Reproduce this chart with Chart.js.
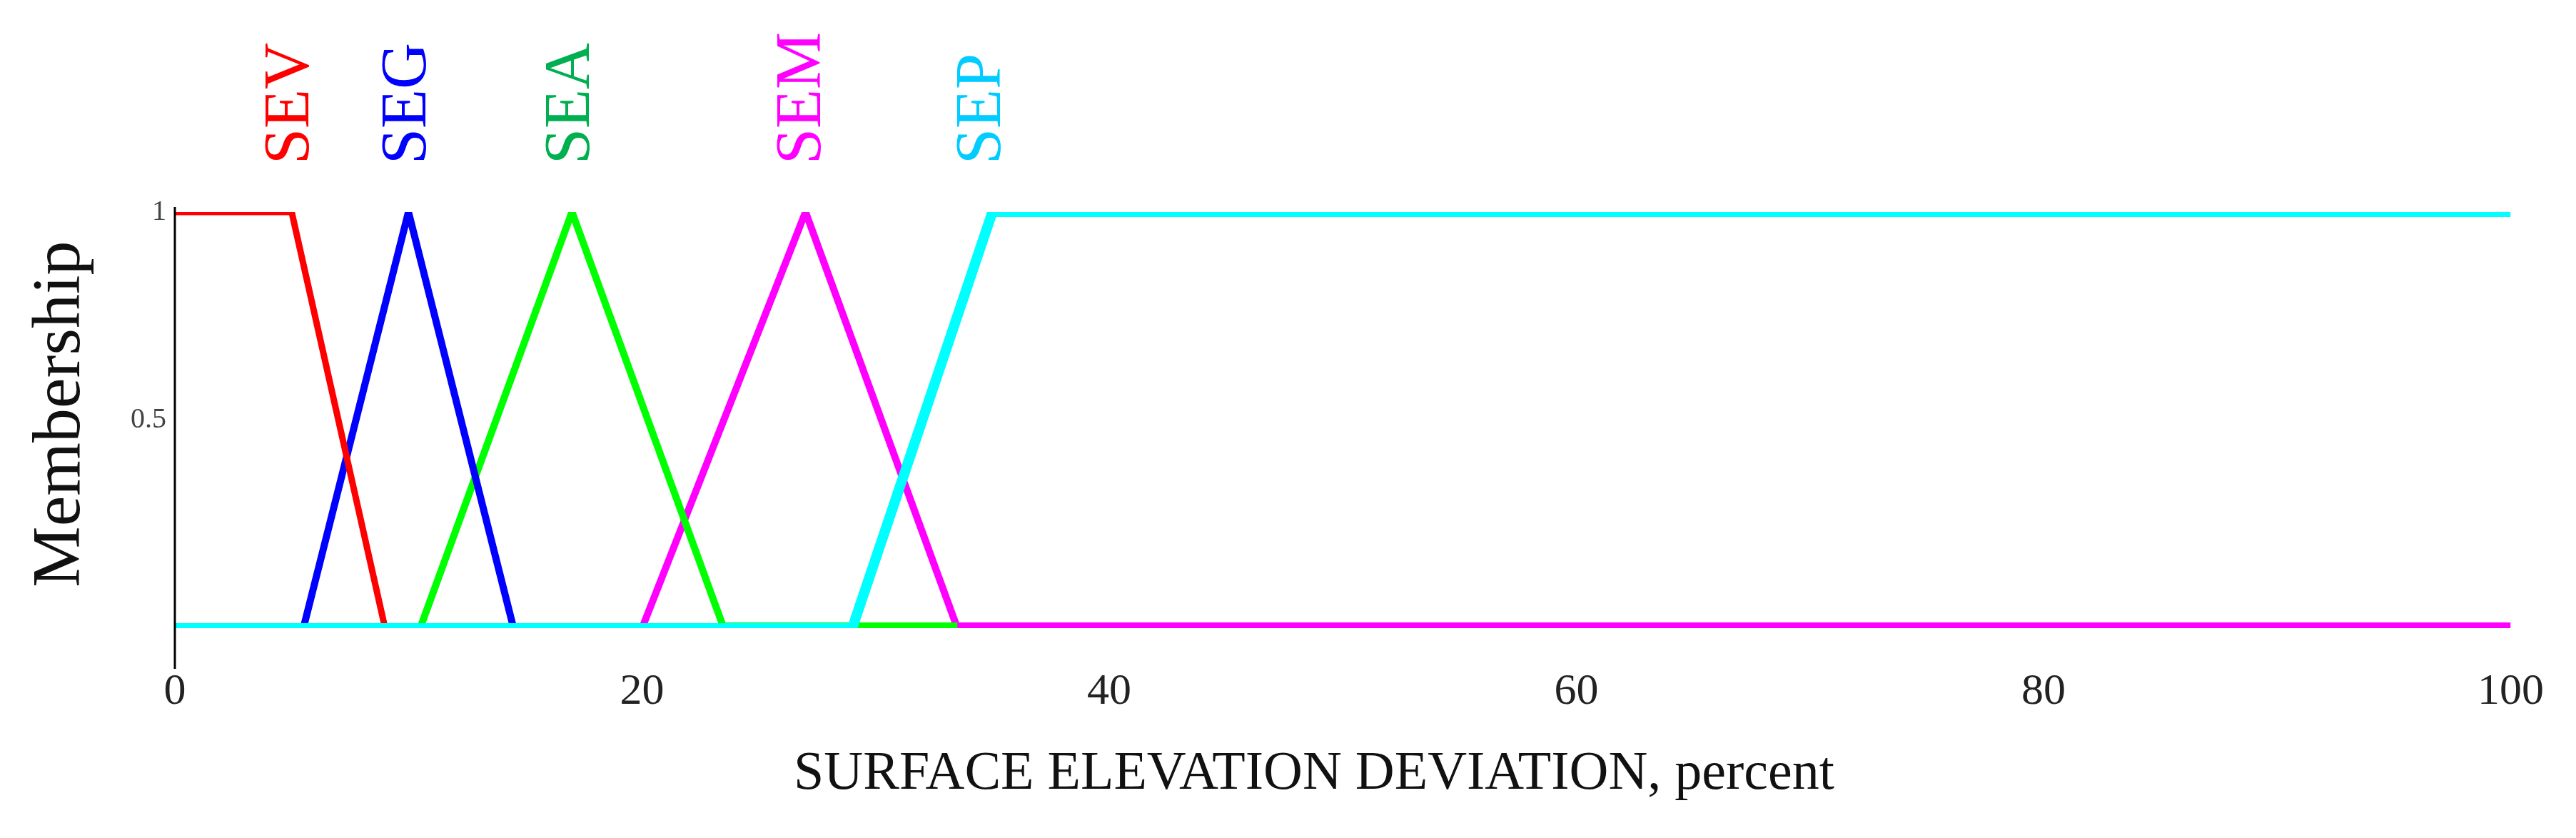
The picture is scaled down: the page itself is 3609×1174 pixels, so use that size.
<!DOCTYPE html>
<html>
<head>
<meta charset="utf-8">
<script src="https://cdn.jsdelivr.net/npm/chart.js@4/dist/chart.umd.min.js"></script>
<style>
  html, body { margin: 0; padding: 0; background: #fff; }
  #wrap { width: 3609px; height: 1174px; }
</style>
</head>
<body>
<div id="wrap"><canvas id="c" width="3609" height="1174"></canvas></div>
<script>
// membership function breakpoints (percent, membership)
const sevX = [0, 5, 9];
const sevY = [1, 1, 0];
const segX = [5.5, 10, 14.5];
const segY = [0, 1, 0];
const seaX = [10.5, 17, 23.5, 33.5];
const seaY = [0, 1, 0, 0];
const semX = [20, 27, 33.5, 100];
const semY = [0, 1, 0, 0];
const sepX = [0, 29, 35, 100];
const sepY = [0, 0, 1, 1];

const setNames = ['SEV', 'SEG', 'SEA', 'SEM', 'SEP'];
const setColors = ['#ff0000', '#0000ff', '#00ff00', '#ff00ff', '#00ffff'];
const labelColors = ['#ff0000', '#0000ff', '#00b050', '#ff00ff', '#00ccff'];
const labelPos = [5, 10, 17, 26.9, 34.6];

const xTicks = [0, 20, 40, 60, 80, 100];
const yTicks = [0.5, 1];

const serif = "'Liberation Serif', 'DejaVu Serif', serif";

function pts(xs, ys) {
    return xs.map((x, i) => ({ x: x, y: ys[i] }));
}

function ds(i, xs, ys, width) {
    return {
        label: setNames[i],
        data: pts(xs, ys),
        borderColor: setColors[i],
        borderWidth: width,
        pointRadius: 0,
        tension: 0,
        fill: false
    };
}

// set labels, axis titles and the long y axis line
const textPlugin = {
    id: 'texts',
    afterDraw(chart) {
        const ctx = chart.ctx;
        const xs = chart.scales.x;
        ctx.save();
        ctx.strokeStyle = '#000';
        ctx.lineWidth = 3;
        ctx.beginPath();
        ctx.moveTo(245, 290);
        ctx.lineTo(245, 937);
        ctx.stroke();

        ctx.font = '90px ' + serif;
        ctx.textAlign = 'left';
        ctx.textBaseline = 'middle';
        setNames.forEach((name, i) => {
            ctx.save();
            ctx.translate(xs.getPixelForValue(labelPos[i]), 230);
            ctx.rotate(-Math.PI / 2);
            ctx.fillStyle = labelColors[i];
            ctx.fillText(name, 0, 0);
            ctx.restore();
        });
        ctx.fillStyle = '#111';
        ctx.font = '76px ' + serif;
        ctx.textAlign = 'center';
        ctx.fillText('SURFACE ELEVATION DEVIATION, percent', 1841, 1085);
        ctx.save();
        ctx.translate(86, 580);
        ctx.rotate(-Math.PI / 2);
        ctx.font = '96px ' + serif;
        ctx.fillText('Membership', 0, 0);
        ctx.restore();
        ctx.restore();
    }
};

new Chart(document.getElementById('c'), {
    type: 'line',
    data: {
        datasets: [
            ds(4, sepX, sepY, 14),
            ds(0, sevX, sevY, 9),
            ds(1, segX, segY, 10),
            ds(2, seaX.slice(0, 3), seaY.slice(0, 3), 10),
            ds(2, seaX.slice(2), seaY.slice(2), 16),
            ds(3, semX.slice(0, 3), semY.slice(0, 3), 10),
            ds(3, semX.slice(2), semY.slice(2), 16),
            // cyan zero segment on top of baseline
            ds(4, sepX.slice(0, 3), sepY.slice(0, 3), 14)
        ]
    },
    options: {
        responsive: false,
        devicePixelRatio: 1,
        animation: false,
        layout: { padding: { left: 0, top: 297, right: 74, bottom: 0 } },
        plugins: { legend: { display: false }, tooltip: { enabled: false } },
        scales: {
            x: {
                type: 'linear',
                min: 0,
                max: 100,
                afterBuildTicks: s => { s.ticks = xTicks.map(v => ({ value: v })); },
                afterFit: s => { s.height = 1174 - 880; },
                grid: { display: false },
                border: { display: false },
                ticks: {
                    color: '#222',
                    padding: 45,
                    font: { family: serif, size: 62 }
                }
            },
            y: {
                min: 0,
                max: 1,
                afterBuildTicks: s => { s.ticks = yTicks.map(v => ({ value: v })); },
                afterFit: s => { s.width = 245; },
                grid: { display: false },
                border: { display: false },
                ticks: {
                    color: '#444',
                    padding: 4,
                    font: { family: serif, size: 40 },
                    callback: v => String(v)
                }
            }
        }
    },
    plugins: [textPlugin]
});
</script>
</body>
</html>
